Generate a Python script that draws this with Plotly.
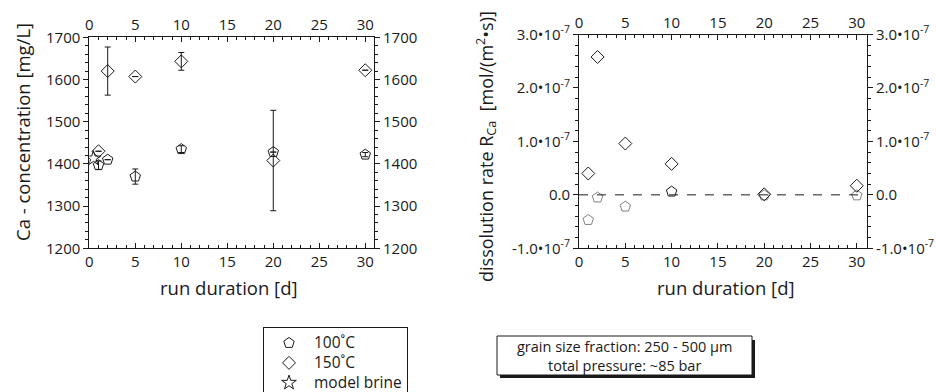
import plotly.graph_objects as go

# ---------------- data ----------------
days = [1, 2, 5, 10, 20, 30]

ca_100 = [1397, 1410, 1370, 1435, 1428, 1422]
ca_100_err = [10, 0, 18, 8, 0, 5]
ca_150 = [1430, 1620, 1607, 1643, 1408, 1622]
ca_150_err = [0, 57, 0, 21, 119, 0]
brine_x = [0.45]
brine_ca = [1413]

rate_100 = [-0.47e-7, -0.05e-7, -0.22e-7, 0.06e-7, -0.01e-7, -0.01e-7]
rate_150 = [0.40e-7, 2.58e-7, 0.96e-7, 0.58e-7, 0.01e-7, 0.17e-7]

ca_ticks = [1200, 1300, 1400, 1500, 1600, 1700]
rate_ticks = [-1e-7, 0, 1e-7, 2e-7, 3e-7]
rate_labels = ["-1.0•10<sup>-7</sup>", "0.0", "1.0•10<sup>-7</sup>",
               "2.0•10<sup>-7</sup>", "3.0•10<sup>-7</sup>"]
x_ticks = [0, 5, 10, 15, 20, 25, 30]

FONT = "Open Sans"
BLACK = "#1a1a1a"
GRAY = "#808080"
LEG = '<span style="font-size:15.5px">{}</span>'

fig = go.Figure()

# left panel
fig.add_trace(go.Scatter(
    x=days, y=ca_100, mode="markers", name=LEG.format("100˚C"), legendgroup="100",
    marker=dict(symbol="pentagon-open", size=11, color=BLACK, line=dict(width=1)),
    error_y=dict(type="data", array=ca_100_err, color=BLACK, thickness=1, width=3),
    xaxis="x", yaxis="y"))
fig.add_trace(go.Scatter(
    x=days, y=ca_150, mode="markers", name=LEG.format("150˚C"), legendgroup="150",
    marker=dict(symbol="diamond-open", size=10, color=BLACK, line=dict(width=1)),
    error_y=dict(type="data", array=ca_150_err, color=BLACK, thickness=1, width=3),
    xaxis="x", yaxis="y"))
fig.add_trace(go.Scatter(
    x=brine_x, y=brine_ca, mode="markers", name=LEG.format("model brine"),
    legendgroup="brine",
    marker=dict(symbol="star-open", size=11, color=BLACK, line=dict(width=1)),
    xaxis="x", yaxis="y"))

# right panel
fig.add_trace(go.Scatter(
    x=days, y=rate_100, mode="markers", name="100˚C", legendgroup="100", showlegend=False,
    marker=dict(symbol="pentagon-open", size=11,
                color=[GRAY if v < 0 else BLACK for v in rate_100], line=dict(width=1)),
    xaxis="x2", yaxis="y2"))
fig.add_trace(go.Scatter(
    x=days, y=rate_150, mode="markers", name="150˚C", legendgroup="150", showlegend=False,
    marker=dict(symbol="diamond-open", size=10, color=BLACK, line=dict(width=1)),
    xaxis="x2", yaxis="y2"))

tickfont = dict(family=FONT, size=15, color=BLACK)

def xax(domain, rng, anchor, side="bottom", overlay=None):
    d = dict(domain=domain, range=rng, anchor=anchor, side=side,
             tickmode="array", tickvals=x_ticks, ticks="inside", ticklen=5,
             tickcolor=BLACK, showline=True, linecolor=BLACK, linewidth=1,
             showgrid=False, zeroline=False, tickfont=tickfont, automargin=False,
             minor=dict(dtick=1, ticks="inside", ticklen=3, tickcolor=BLACK, showgrid=False))
    if overlay:
        d["overlaying"] = overlay
    return d

def yax(domain, rng, anchor, vals, labels=None, side="left", overlay=None, minor_dtick=20):
    d = dict(domain=domain, range=rng, anchor=anchor, side=side,
             tickmode="array", tickvals=vals, ticks="outside", ticklen=5,
             tickcolor=BLACK, showline=True, linecolor=BLACK, linewidth=1,
             showgrid=False, zeroline=False, tickfont=tickfont, automargin=False,
             minor=dict(dtick=minor_dtick, ticks="outside", ticklen=3, tickcolor=BLACK, showgrid=False))
    if labels:
        d["ticktext"] = labels
    if overlay:
        d["overlaying"] = overlay
    return d

H = 392
W = 936
ydom1 = [1 - 248.3 / H, 1 - 37.3 / H]
ydom2 = [1 - 248.3 / H, 1 - 34.5 / H]
xdom1 = [89.3 / W, 374 / W]
xdom2 = [579 / W, 867 / W]
r1 = [0, 30.95]
r2 = [0, 31.1]
ry1 = [1200, 1700]
ry2 = [-1e-7, 3e-7]

fig.update_layout(
    width=W, height=H,
    margin=dict(l=0, r=0, t=0, b=0, autoexpand=False),
    paper_bgcolor="white", plot_bgcolor="white",
    font=dict(family=FONT, size=14, color=BLACK),
    xaxis=xax(xdom1, r1, "y"),
    yaxis=yax(ydom1, ry1, "x", ca_ticks),
    xaxis3=xax(xdom1, r1, "y", side="top", overlay="x"),
    yaxis3=yax(ydom1, ry1, "x", ca_ticks, side="right", overlay="y"),
    xaxis2=xax(xdom2, r2, "y2"),
    yaxis2=yax(ydom2, ry2, "x2", rate_ticks, rate_labels, minor_dtick=0.2e-7),
    xaxis4=xax(xdom2, r2, "y2", side="top", overlay="x2"),
    yaxis4=yax(ydom2, ry2, "x2", rate_ticks, rate_labels, side="right", overlay="y2",
               minor_dtick=0.2e-7),
    showlegend=True,
    legend=dict(x=263 / W, y=1 - 327 / H, xanchor="left", yanchor="top",
                bgcolor="white", bordercolor=BLACK, borderwidth=1,
                font=dict(family=FONT, size=13, color=BLACK),
                itemwidth=40, tracegroupgap=0),
)

# dummy traces for overlay axes so they render
for xa, ya in [("x3", "y3"), ("x4", "y4")]:
    fig.add_trace(go.Scatter(x=[None], y=[None], xaxis=xa, yaxis=ya, showlegend=False,
                             hoverinfo="skip"))

# zero line
fig.add_shape(type="line", xref="x2 domain", yref="y2", x0=0, x1=1, y0=0, y1=0,
              line=dict(color=BLACK, width=1, dash="dash"))

# legend shadow
fig.add_shape(type="rect", xref="paper", yref="paper",
              x0=267 / W, x1=408 / W, y0=1 - 400 / H, y1=1 - 331 / H,
              fillcolor=BLACK, line=dict(width=0), layer="below")

# info box with shadow
fig.add_shape(type="rect", xref="paper", yref="paper",
              x0=500 / W, x1=755 / W, y0=1 - 378 / H, y1=1 - 340 / H,
              fillcolor=BLACK, line=dict(width=0))
fig.add_shape(type="rect", xref="paper", yref="paper",
              x0=497 / W, x1=752 / W, y0=1 - 375 / H, y1=1 - 336 / H,
              fillcolor="white", line=dict(color=BLACK, width=1))
fig.add_annotation(xref="paper", yref="paper", x=624 / W, y=1 - 346 / H,
                   text="grain size fraction: 250 - 500 µm",
                   showarrow=False, font=dict(family=FONT, size=14.5, color=BLACK),
                   xanchor="center", yanchor="middle")
fig.add_annotation(xref="paper", yref="paper", x=624 / W, y=1 - 365 / H,
                   text="total pressure: ~85 bar",
                   showarrow=False, font=dict(family=FONT, size=14.5, color=BLACK),
                   xanchor="center", yanchor="middle")

# axis titles
fig.add_annotation(xref="paper", yref="paper", x=22 / W, y=1 - 132 / H,
                   text="Ca - concentration [mg/L]", textangle=-90, showarrow=False,
                   xanchor="center", yanchor="middle",
                   font=dict(family=FONT, size=18.5, color=BLACK))
fig.add_annotation(xref="paper", yref="paper", x=486 / W, y=1 - 147 / H,
                   text="dissolution rate R<sub>Ca</sub>  [mol/(m<sup>2</sup>•s)]",
                   textangle=-90, showarrow=False,
                   xanchor="center", yanchor="middle",
                   font=dict(family=FONT, size=18, color=BLACK))
fig.add_annotation(xref="paper", yref="paper", x=229 / W, y=1 - 287 / H,
                   text="run duration [d]", showarrow=False,
                   xanchor="center", yanchor="middle",
                   font=dict(family=FONT, size=18.5, color=BLACK))
fig.add_annotation(xref="paper", yref="paper", x=726 / W, y=1 - 287 / H,
                   text="run duration [d]", showarrow=False,
                   xanchor="center", yanchor="middle",
                   font=dict(family=FONT, size=18.5, color=BLACK))

fig.write_html("out.html", post_script="document.body.style.margin='0';",
               config={"displayModeBar": False})
